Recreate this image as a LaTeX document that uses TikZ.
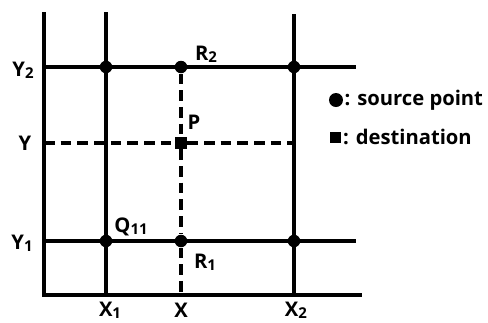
\documentclass[tikz,border=0pt]{standalone}
\usepackage{fontspec}
\setmainfont{Open Sans}
\usepackage{tikz}
\usetikzlibrary{positioning}

\newcommand{\sub}[1]{{\fontsize{8.5}{9}\selectfont\raisebox{-1pt}{#1}}}

\begin{document}
\begin{tikzpicture}[x=0.02cm, y=-0.02cm, font=\bfseries\fontsize{11.5}{14}\selectfont,
    grid/.style={line width=2.4pt},
    guide/.style={line width=1.8pt, dash pattern=on 6pt off 3.5pt},
    src/.style={circle, fill, inner sep=0pt, minimum size=12.5*0.02cm},
    dst/.style={rectangle, fill, inner sep=0pt, minimum size=12*0.02cm}]
  \useasboundingbox (0,0) rectangle (488,322);
  % axes
  \coordinate (o) at (44,295);
  \coordinate (top) at (44,12);
  \coordinate (right) at (362,295);
  \draw[grid] (top) -- (o) -- (right);
  % grid lines
  \coordinate (x1t) at (106,12);  \coordinate (x1b) at (106,295);
  \coordinate (x2t) at (294,14);  \coordinate (x2b) at (294,295);
  \coordinate (y2l) at (44,67);   \coordinate (y2r) at (356,67);
  \coordinate (y1l) at (44,241);  \coordinate (y1r) at (356,241);
  \coordinate (xb) at (181,295);  \coordinate (yl) at (44,143);
  \coordinate (yr) at (294,143);
  \draw[grid] (x1t) -- (x1b);
  \draw[grid] (x2t) -- (x2b);
  \draw[grid] (y2l) -- (y2r);
  \draw[grid] (y1l) -- (y1r);
  % source points
  \node[src] (q12) at (106,67) {};
  \node[src] (r2) at (181,67) {};
  \node[src] (q22) at (294,67) {};
  \node[src] (q11) at (106,241) {};
  \node[src] (r1) at (181,241) {};
  \node[src] (q21) at (294,241) {};
  % destination
  \node[dst] (p) at (181,143) {};
  \draw[guide] (r2) -- (p) -- (r1) -- (xb);
  \draw[guide] (yl) -- (p) -- (yr);
  % labels
  \node (ly2) at (23,70) {Y\sub{2}};
  \node (ly) at (25,143) {Y};
  \node (ly1) at (22,243) {Y\sub{1}};
  \node (lx1) at (110,310) {X\sub{1}};
  \node (lx) at (181,310) {X};
  \node (lx2) at (296,310) {X\sub{2}};
  \node (lr2) at (206,54) {R\sub{2}};
  \node (lp) at (194,122) {P};
  \node (lq11) at (131,227) {Q\sub{11}};
  \node (lr1) at (205,262) {R\sub{1}};
  % legend
  \node[src, minimum size=14*0.02cm] (ksrc) at (336,100) {};
  \node[right=0.5pt of ksrc, inner sep=0pt] (tsrc) {: source point};
  \node[dst, minimum size=11*0.02cm] (kdst) at (336,137) {};
  \node[right=0.5pt of kdst, inner sep=0pt] (tdst) {: destination};
\end{tikzpicture}
\end{document}
